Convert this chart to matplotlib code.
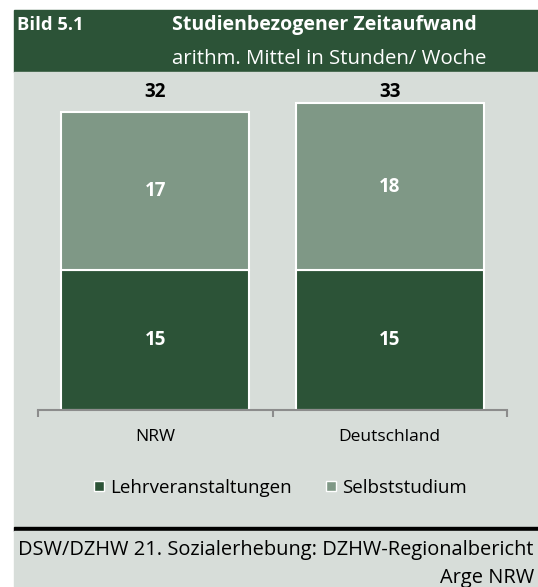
import matplotlib.pyplot as plt
from matplotlib.patches import Rectangle
from matplotlib.lines import Line2D

# Daten
kategorien = ["NRW", "Deutschland"]
lehrveranstaltungen = [15, 15]
selbststudium = [17, 18]
gesamt = [32, 33]

dunkel = "#2c5337"
hell = "#7f9886"
hintergrund = "#d7ddd9"

plt.rcParams["font.family"] = ["Open Sans", "DejaVu Sans"]

W, H = 538, 587
fig = plt.figure(figsize=(W / 100, H / 100), dpi=100)


def box(x0, y0, x1, y1, color):
    # Pixelkoordinaten (von oben) -> Figurkoordinaten
    fig.add_artist(Rectangle((x0 / W, 1 - y1 / H), (x1 - x0) / W, (y1 - y0) / H,
                             transform=fig.transFigure, color=color, zorder=0))


def text(x, y, s, **kw):
    fig.text(x / W, 1 - y / H, s, **kw)


# Hintergrundflächen
box(14, 10, 538, 72, dunkel)
box(14, 72, 538, 527, hintergrund)
box(14, 527, 538, 531, "black")
box(14, 531, 538, 587, hintergrund)

# Kopfzeile
text(17, 25, "Bild 5.1", color="white", fontsize=13.3, fontweight="bold", va="center")
text(172, 25, "Studienbezogener Zeitaufwand", color="white", fontsize=14,
     fontweight="bold", va="center")
text(172, 59, "arithm. Mittel in Stunden/ Woche", color="white", fontsize=14.7,
     va="center")

# Diagramm
ax = fig.add_axes([38 / W, 177 / H, (507 - 38) / W, 330 / H])
ax.set_facecolor("none")
x = range(len(kategorien))
ax.bar(x, lehrveranstaltungen, width=0.8, color=dunkel, edgecolor="white",
       linewidth=1.5, label="Lehrveranstaltungen")
ax.bar(x, selbststudium, width=0.8, bottom=lehrveranstaltungen, color=hell,
       edgecolor="white", linewidth=1.5, label="Selbststudium")

for i in x:
    ax.text(i, lehrveranstaltungen[i] / 2, str(lehrveranstaltungen[i]), ha="center",
            va="center", color="white", fontsize=13.5, fontweight="bold")
    ax.text(i, lehrveranstaltungen[i] + selbststudium[i] / 2, str(selbststudium[i]),
            ha="center", va="center", color="white", fontsize=13.5, fontweight="bold")
    # Summen stehen bei allen Säulen auf gleicher Höhe
    ax.text(i, 34.2, str(gesamt[i]), ha="center", va="center",
            color="black", fontsize=13.5, fontweight="bold")

ax.set_xlim(-0.5, 1.5)
ax.set_ylim(0, 35.45)
ax.set_yticks([])
for s in ["top", "left", "right"]:
    ax.spines[s].set_visible(False)
ax.spines["bottom"].set_color("#8c8c8c")
ax.spines["bottom"].set_linewidth(1.5)
ax.set_xticks(list(x))
ax.set_xticklabels(kategorien, fontsize=12.5)
ax.tick_params(axis="x", which="major", length=0, pad=14)
ax.set_xticks([-0.5, 0.5, 1.5], minor=True)
ax.tick_params(axis="x", which="minor", length=5, width=1.5, color="#8c8c8c")

# Legende
handles = [Line2D([], [], marker="s", linestyle="none", markersize=7,
                  markerfacecolor=c, markeredgecolor="white", markeredgewidth=1)
           for c in [dunkel, hell]]
fig.legend(handles, ["Lehrveranstaltungen", "Selbststudium"], loc="center",
           bbox_to_anchor=(278 / W, 1 - 488 / H), ncol=2, frameon=False,
           fontsize=13.5, handletextpad=0.1, columnspacing=1.6, handlelength=1)

# Quelle
text(534, 550, "DSW/DZHW 21. Sozialerhebung: DZHW-Regionalbericht", fontsize=14.4,
     ha="right", va="center")
text(534, 578, "Arge NRW", fontsize=14.4, ha="right", va="center")

fig.savefig("out.png", dpi=100)
